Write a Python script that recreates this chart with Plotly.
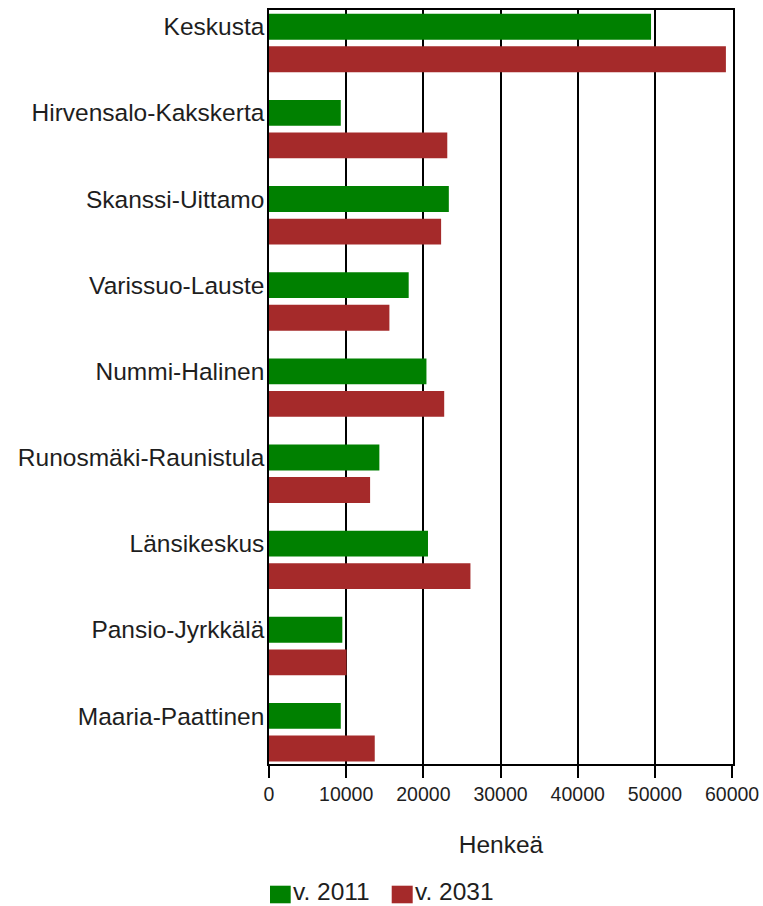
import plotly.graph_objects as go

# Population by district, current (2011) and projected (2031)
districts = [
    "Keskusta",
    "Hirvensalo-Kakskerta",
    "Skanssi-Uittamo",
    "Varissuo-Lauste",
    "Nummi-Halinen",
    "Runosmäki-Raunistula",
    "Länsikeskus",
    "Pansio-Jyrkkälä",
    "Maaria-Paattinen",
]
pop_2011 = [49500, 9300, 23300, 18100, 20400, 14300, 20600, 9500, 9300]
pop_2031 = [59200, 23100, 22300, 15600, 22700, 13100, 26100, 10050, 13700]

series_names = ["v. 2011", "v. 2031"]
series_colors = ["#008000", "#A52A2A"]
x_ticks = [0, 10000, 20000, 30000, 40000, 50000, 60000]

W, H = 763, 906
M_L, M_R, M_T, M_B = 269, 30, 10, 142
FONT = "Liberation Sans, Arial, sans-serif"
TEXT = "#1e1e1e"

BAR_W = 0.30
fig = go.Figure()
# label sits on the 2011 bar; the 2031 bar hangs just below it
for vals, name, color, off in [
    (pop_2011, series_names[0], series_colors[0], -BAR_W / 2),
    (pop_2031, series_names[1], series_colors[1], 0.378 - BAR_W / 2),
]:
    fig.add_trace(go.Bar(
        y=districts, x=vals, orientation="h", name=name,
        marker=dict(color=color, line=dict(width=0)),
        width=BAR_W, offset=off, showlegend=False,
    ))

fig.update_layout(
    width=W, height=H, autosize=False,
    margin=dict(l=M_L, r=M_R, t=M_T, b=M_B, pad=0, autoexpand=False),
    paper_bgcolor="white", plot_bgcolor="white",
    barmode="overlay",
    font=dict(family=FONT, color=TEXT),
    xaxis=dict(
        range=[0, 60120], tickvals=x_ticks,
        ticktext=[str(v) for v in x_ticks],
        showgrid=True, gridcolor="#000000", gridwidth=1.5,
        showline=True, linecolor="#000000", linewidth=1.5, mirror=True,
        ticks="outside", ticklen=12, tickwidth=1.5, tickcolor="#000000",
        tickfont=dict(size=19.5, family=FONT, color=TEXT),
        zeroline=False, layer="above traces", automargin=False,
        title=dict(text="Henkeä", font=dict(size=24.5, family=FONT, color=TEXT), standoff=32),
    ),
    yaxis=dict(
        type="category", categoryorder="array", categoryarray=districts,
        range=[8.558, -0.194],
        showgrid=False, showline=True, linecolor="#000000", linewidth=1.5, mirror=True,
        ticks="", ticklabelstandoff=-2, automargin=False,
        tickfont=dict(size=24.5, family=FONT, color=TEXT),
        zeroline=False,
    ),
)

# legend swatches and labels below the axis title
pw = W - M_L - M_R
ph = H - M_T - M_B
def px_x(p):
    return (p - M_L) / pw
def px_y(p):
    return (H - M_B - p) / ph

swatch_x = [(270, 290.7), (391.7, 412.7)]
label_x = [292.3, 414]
for (x0, x1), lx, name, color in zip(swatch_x, label_x, series_names, series_colors):
    fig.add_shape(type="rect", xref="paper", yref="paper",
                  x0=px_x(x0), x1=px_x(x1), y0=px_y(903.3), y1=px_y(885.7),
                  fillcolor=color, line=dict(width=0))
    fig.add_annotation(xref="paper", yref="paper", x=px_x(lx), y=px_y(891.3),
                       text=name, showarrow=False, xanchor="left", yanchor="middle",
                       borderpad=0,
                       font=dict(size=24.5, family=FONT, color=TEXT))

fig.write_html("out.html")
